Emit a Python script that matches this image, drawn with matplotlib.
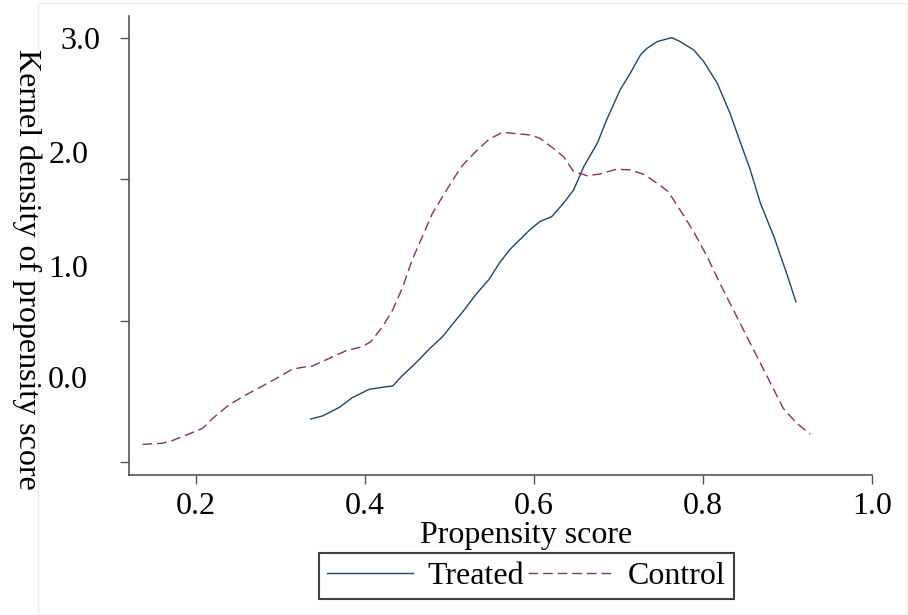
import matplotlib
matplotlib.use('Agg')
import matplotlib.pyplot as plt
from matplotlib.patches import Rectangle

plt.rcParams['font.family'] = ['Liberation Serif', 'DejaVu Serif']

# kernel density curves
treated_x = [0.336, 0.350, 0.370, 0.385, 0.405, 0.421, 0.433, 0.444, 0.460, 0.476,
             0.492, 0.504, 0.516, 0.531, 0.547, 0.559, 0.571, 0.583, 0.595, 0.607,
             0.621, 0.635, 0.647, 0.659, 0.675, 0.686, 0.702, 0.714, 0.726, 0.734,
             0.746, 0.763, 0.773, 0.789, 0.801, 0.817, 0.832, 0.844, 0.856, 0.868,
             0.884, 0.899, 0.910]
treated_y = [0.304, 0.326, 0.387, 0.455, 0.514, 0.529, 0.538, 0.609, 0.699, 0.798,
             0.887, 0.977, 1.064, 1.182, 1.293, 1.406, 1.500, 1.571, 1.642, 1.701,
             1.736, 1.831, 1.925, 2.090, 2.255, 2.420, 2.633, 2.751, 2.880, 2.928,
             2.975, 3.003, 2.975, 2.916, 2.833, 2.680, 2.468, 2.267, 2.067, 1.831,
             1.594, 1.335, 1.134]

control_x = [0.137, 0.160, 0.172, 0.184, 0.208, 0.220, 0.239, 0.259, 0.279, 0.299,
             0.314, 0.326, 0.338, 0.358, 0.378, 0.397, 0.407, 0.421, 0.433, 0.445,
             0.456, 0.468, 0.480, 0.492, 0.504, 0.516, 0.531, 0.547, 0.563, 0.575,
             0.585, 0.596, 0.607, 0.623, 0.635, 0.647, 0.663, 0.678, 0.698, 0.714,
             0.730, 0.746, 0.759, 0.773, 0.789, 0.805, 0.820, 0.836, 0.852, 0.868,
             0.884, 0.895, 0.911, 0.927]
control_y = [0.125, 0.132, 0.151, 0.179, 0.238, 0.309, 0.403, 0.474, 0.538, 0.604,
             0.656, 0.670, 0.679, 0.734, 0.788, 0.816, 0.851, 0.958, 1.076, 1.241,
             1.430, 1.594, 1.760, 1.878, 1.996, 2.102, 2.196, 2.284, 2.333, 2.326,
             2.320, 2.314, 2.291, 2.220, 2.161, 2.055, 2.026, 2.038, 2.072, 2.067,
             2.036, 1.972, 1.913, 1.783, 1.630, 1.453, 1.265, 1.076, 0.887, 0.699,
             0.510, 0.380, 0.274, 0.198]

xticks = [0.2, 0.4, 0.6, 0.8, 1.0]
xtick_labels = ['0.2', '0.4', '0.6', '0.8', '1.0']
yticks = [0, 1, 2, 3]
ytick_labels = ['3.0', '2.0', '1.0', '0.0']
# where the y labels sit (they are not lined up with the ticks in the original)
ylab_pos = [2.923, 2.116, 1.309, 0.524]
ylab_x = [-0.039, -0.055, -0.055, -0.055]

fs = 23

fig = plt.figure(figsize=(9.08, 6.15), dpi=100)
ax = fig.add_axes([129/908, 1 - 475/615, 743/908, 459/615])

ax.plot(treated_x, treated_y, color='#1a476f', lw=1.0, label='Treated')
ax.plot(control_x, control_y, color='#90353b', lw=1.0, dashes=(7, 3.5), label='Control')

ax.set_xlim(0.121, 1.0)
ax.set_ylim(-0.092, 3.156)

ax.set_xticks(xticks)
ax.set_xticklabels(xtick_labels, fontsize=fs)
ax.set_yticks(yticks)
ax.set_yticklabels([])
for lab, yy, xx in zip(ytick_labels, ylab_pos, ylab_x):
    ax.text(xx, yy, lab, transform=ax.get_yaxis_transform(), ha='right', va='baseline', fontsize=fs)

ax.tick_params(axis='both', length=6.5, width=1.0, color='#555555', pad=6)
for s in ['top', 'right']:
    ax.spines[s].set_visible(False)
for s in ['left', 'bottom']:
    ax.spines[s].set_color('#555555')
    ax.spines[s].set_linewidth(1.2)

ax.set_xlabel('Propensity score', fontsize=fs, va='baseline')
ax.xaxis.set_label_coords(0.534, -0.148)

fig.text(27/908, 1 - 269/615, 'Kernel density of propensity score', rotation=-90,
         ha='center', va='center', fontsize=fs)

leg = fig.legend(loc='center', bbox_to_anchor=(526.5/908, 1 - 576/615), ncol=2,
                 fontsize=fs, handlelength=2.7, handletextpad=0.45, columnspacing=0.1,
                 borderpad=0.25, fancybox=False, framealpha=1)
leg.get_frame().set_edgecolor('#404040')
leg.get_frame().set_linewidth(1.5)

fig.patches.append(Rectangle((38/908, 1/615), 869/908, 611/615, transform=fig.transFigure,
                             fill=False, edgecolor='#eeeeee', lw=1))

fig.savefig('out.png', dpi=100)
